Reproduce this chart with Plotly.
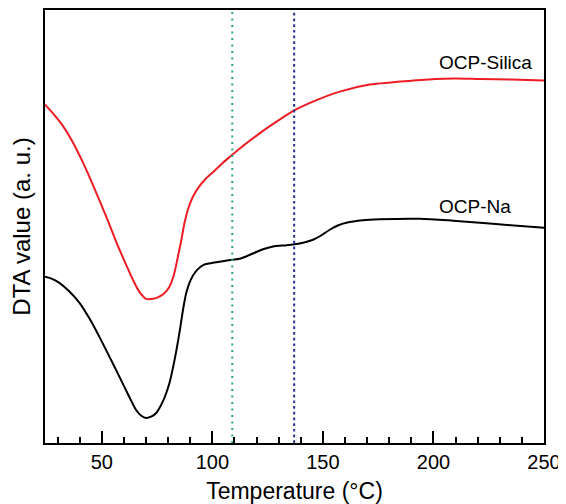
import plotly.graph_objects as go

# ---- data (arbitrary DTA units) ----
t_silica = [24.3, 28, 32.3, 36.5, 41.3, 46.5, 52, 56.5, 61, 64.5, 67, 70, 73, 75.3, 78, 80.6, 82.6, 84.4, 86, 87.4,
            89.2, 91.2, 94, 97, 100.5, 104.8, 108.5, 112.3, 120, 125, 130.4, 136.8, 145.5, 157.6, 171.2,
            190.8, 209, 221, 235, 250]
y_silica = [340, 331, 319, 304, 283, 257, 228, 203, 180, 163, 153, 146, 146, 147.5, 151, 158, 170, 188, 205, 222,
            237, 248, 258, 266, 273, 282, 289, 296, 309, 317, 325, 334, 343, 353, 360,
            364, 366, 365.5, 365, 364]

t_na = [24.3, 27.5, 30.8, 35, 39.9, 44.5, 48.9, 53.5, 58, 62, 65.5, 68, 70, 72.5, 74.6, 77.5, 80.6, 83, 85.1, 86.8,
        88.2, 90, 92.7, 96, 100.2, 106, 109, 112.3, 117, 122.9, 128, 133.5, 137.2, 141, 145.5, 149, 153.1, 157,
        160.6, 168, 175.7, 193.8, 209, 221, 235, 250]
y_na = [168, 166, 162, 154, 142, 126, 108, 88, 68, 50, 35, 29, 27, 28.5, 32, 43, 62, 86, 112, 136,
        152, 164, 174, 180, 182, 184, 185, 186, 190, 195.5, 198.5, 199.5, 200.5, 202, 205, 209, 215, 219.5,
        222, 224.5, 225.5, 226, 224, 222, 219.5, 217]

series_names = ["OCP-Silica", "OCP-Na"]
series_colors = ["#ee1c24", "#000000"]
label_x = [201.5, 201.5]
label_y = [382, 238]

vline_x = [109, 137]
vline_colors = ["#2aa86a", "#2b2f8f"]
vline_dash = ["2px,4.5px", "2.7px,3px"]

x_ticks = [50, 100, 150, 200, 250]

fig = go.Figure()
for t, y, name, col in zip([t_silica, t_na], [y_silica, y_na], series_names, series_colors):
    fig.add_trace(go.Scatter(x=t, y=y, mode="lines", name=name,
                             line=dict(color=col, width=2, shape="spline", smoothing=0.8),
                             showlegend=False))

for name, lx, ly in zip(series_names, label_x, label_y):
    fig.add_annotation(x=lx, y=ly, text=name, showarrow=False, xanchor="left", yanchor="middle",
                       font=dict(family="Liberation Sans, Arial, sans-serif", size=19, color="#000"))

for vx, vc, vd in zip(vline_x, vline_colors, vline_dash):
    fig.add_shape(type="line", x0=vx, x1=vx, y0=0, y1=1, xref="x", yref="paper",
                  line=dict(color=vc, width=2, dash=vd))

# page body has an 8px margin, so the figure is 8px smaller and margins shifted
fig.update_layout(
    width=558, height=496,
    margin=dict(l=37, r=22, t=2, b=61, autoexpand=False),
    paper_bgcolor="white", plot_bgcolor="white",
    font=dict(family="Liberation Sans, Arial, sans-serif", color="#000"),
)
fig.update_xaxes(range=[24.3, 250], tickvals=x_ticks, ticks="inside", ticklen=12, tickwidth=1.5,
                 tickcolor="#000", showline=True, linecolor="#000", linewidth=2, mirror=True,
                 showgrid=False, zeroline=False, tickfont=dict(size=20), automargin=False,
                 minor=dict(dtick=10, tick0=0, ticks="inside", ticklen=6, tickwidth=1.5, tickcolor="#000",
                            showgrid=False),
                 title=dict(text="Temperature (°C)", font=dict(size=23), standoff=20))
fig.update_yaxes(range=[2, 434.5], showticklabels=False, ticks="", showline=True, linecolor="#000",
                 linewidth=2, mirror=True, showgrid=False, zeroline=False, automargin=False,
                 title=dict(text="DTA value (a. u.)", font=dict(size=24), standoff=8))

fig.write_html("out.html")
